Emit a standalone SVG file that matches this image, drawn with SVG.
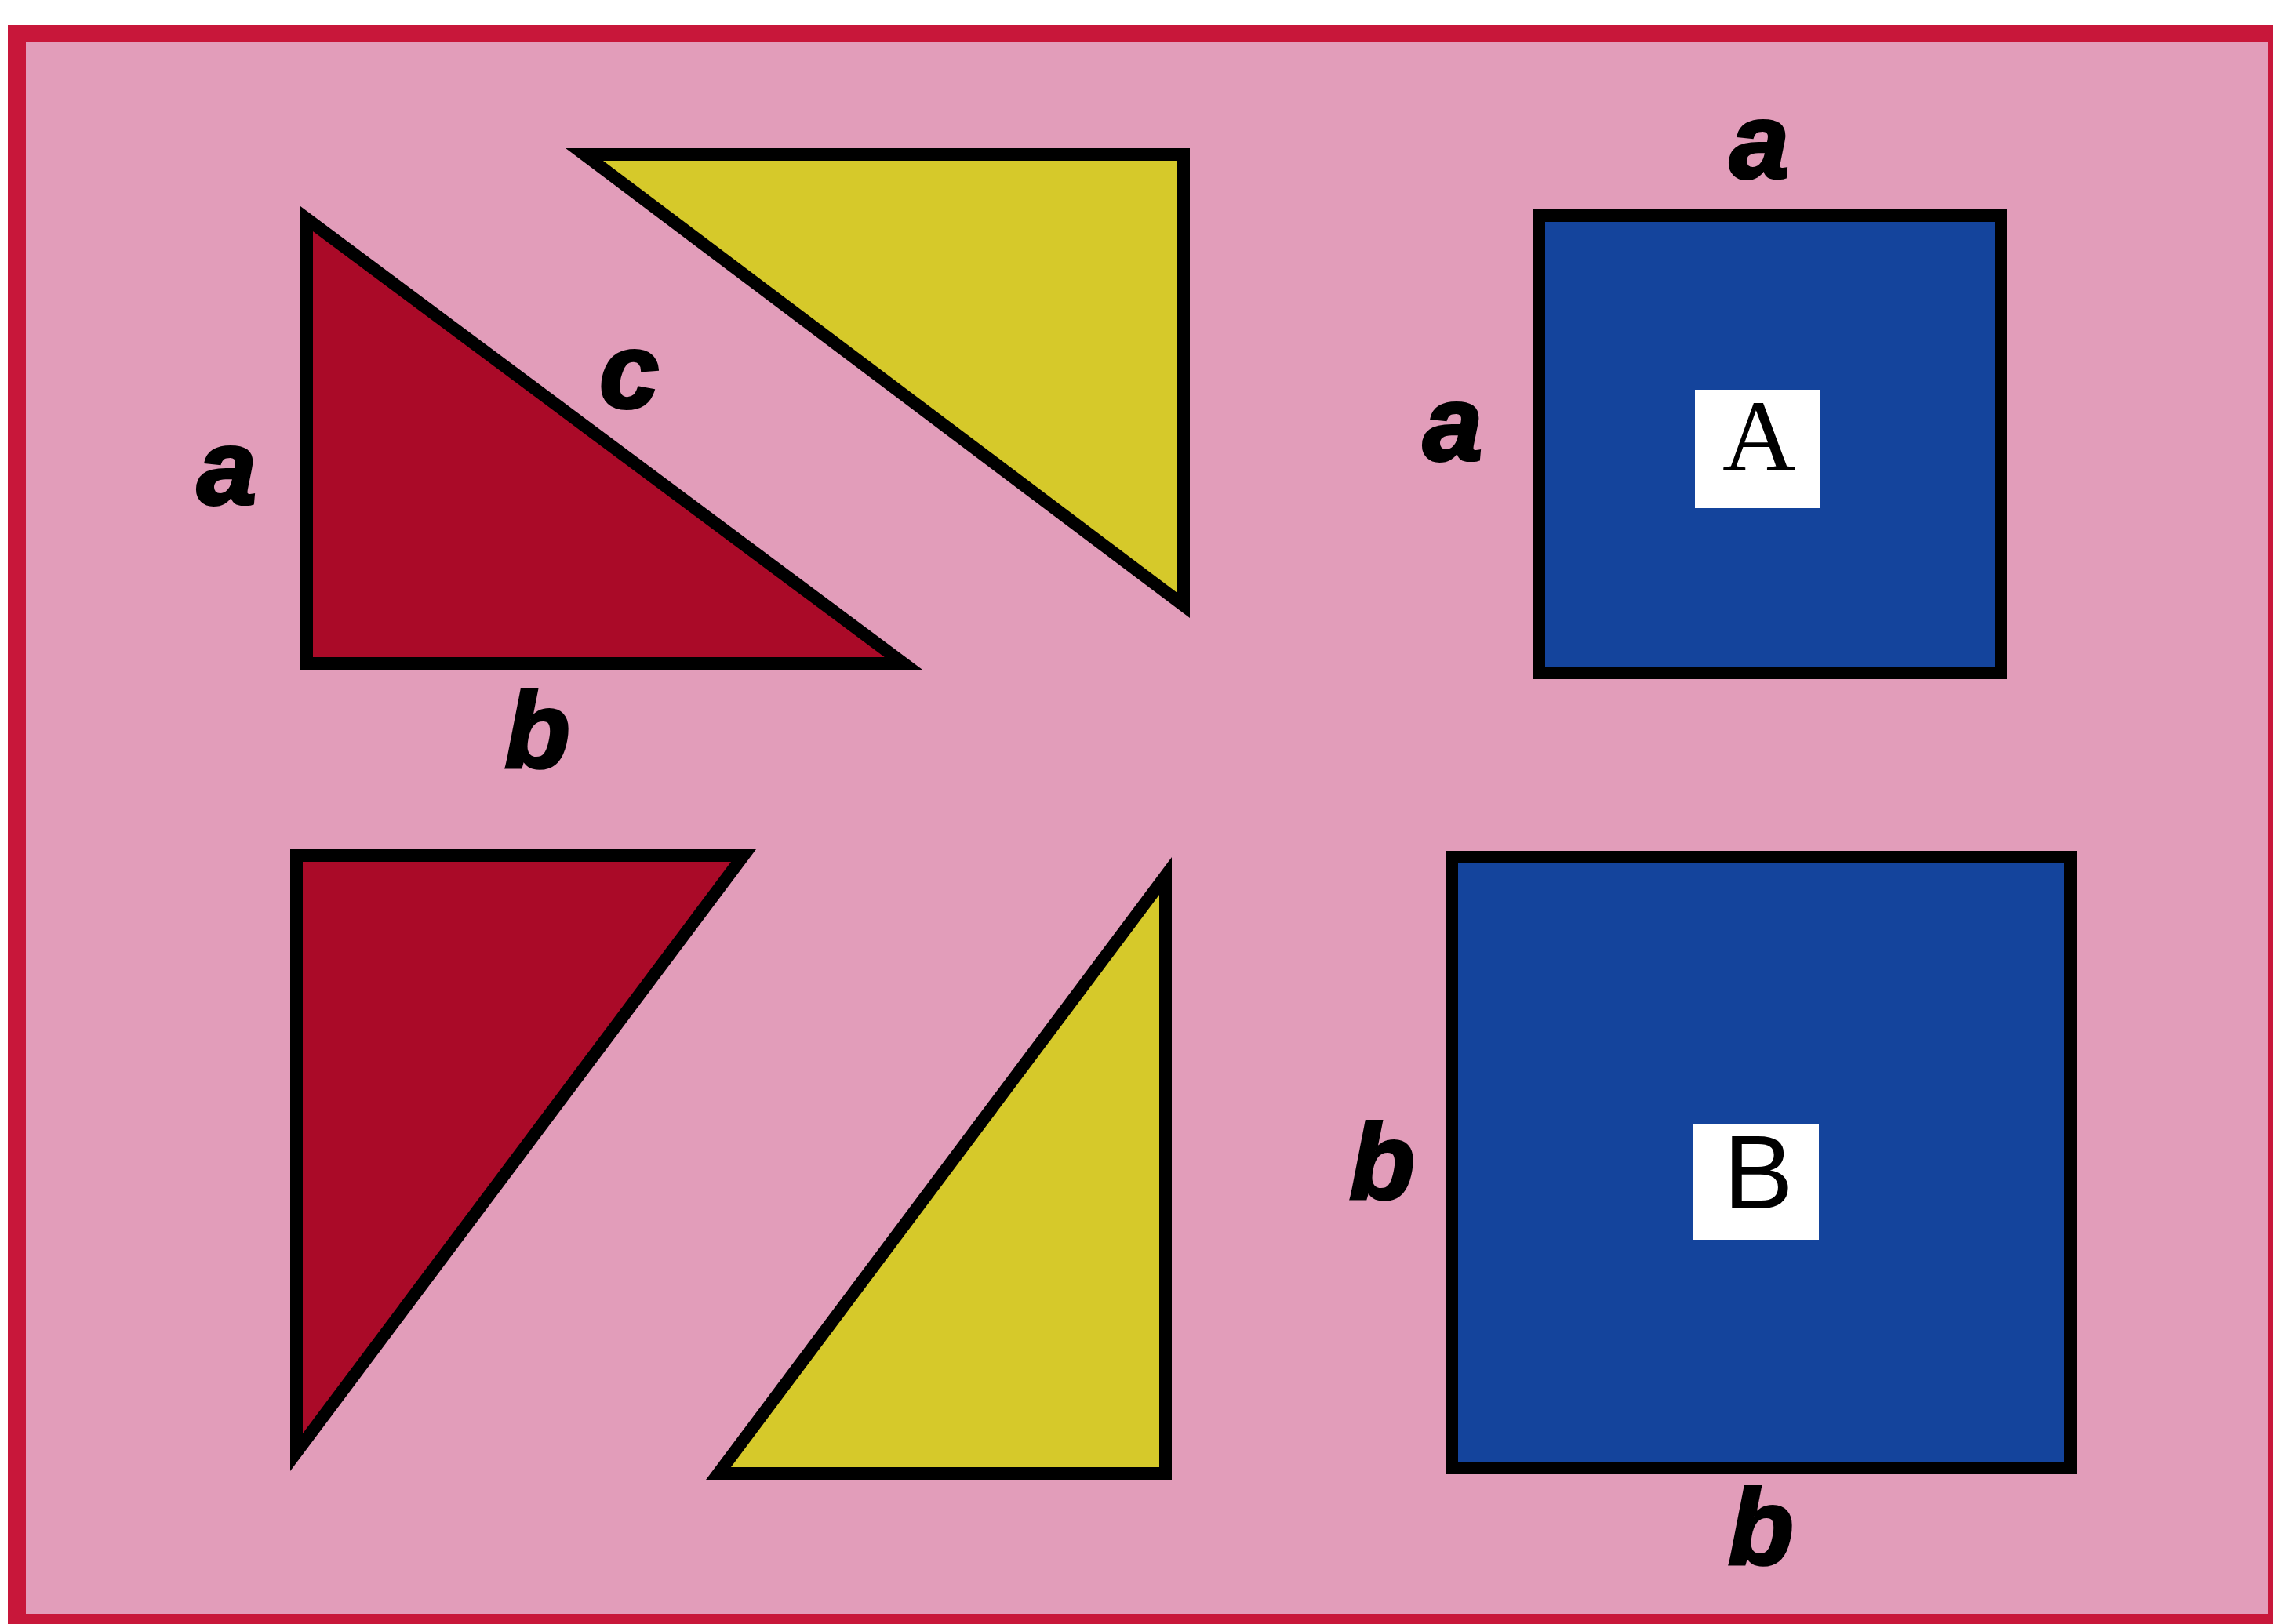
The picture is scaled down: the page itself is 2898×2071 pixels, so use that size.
<svg xmlns="http://www.w3.org/2000/svg" width="2898" height="2071" viewBox="0 0 2898 2071">
<style>
.shape{stroke:#000;stroke-width:16;stroke-linejoin:miter;stroke-miterlimit:10}
.red{fill:#AA0A28}
.yel{fill:#D6C92A}
.blue{fill:#14449C}
.lbl{font-family:"Liberation Sans",Arial,sans-serif;font-weight:bold;font-style:italic;font-size:136px;fill:#000;stroke:#000;stroke-width:4;text-anchor:middle}
.box{fill:#fff}
</style>
<rect x="0" y="0" width="2898" height="2071" fill="#fff"/>
<rect id="frame" x="10" y="32" width="2888" height="2039" fill="#C8173A"/>
<rect x="33" y="54" width="2859" height="2004" fill="#E29DBA"/>
<g id="tri-red-top">
<polygon class="shape red" points="391,279 391,846 1152,846"/>
</g>
<g id="tri-yellow-top">
<polygon class="shape yel" points="745,197 1509,197 1509,772"/>
</g>
<g id="tri-red-bottom">
<polygon class="shape red" points="378,1091 948,1091 378,1852"/>
</g>
<g id="tri-yellow-bottom">
<polygon class="shape yel" points="1486,1117 1486,1879 916,1879"/>
</g>
<g id="square-A">
<rect class="shape blue" x="1962" y="275" width="589" height="583"/>
<rect class="box" x="2161" y="497" width="159" height="151"/>
<text x="2243" y="600" font-family="'Liberation Serif','Times New Roman',serif" font-size="130" text-anchor="middle" fill="#000">A</text>
</g>
<g id="square-B">
<rect class="shape blue" x="1851" y="1093" width="789" height="779"/>
<rect class="box" x="2159" y="1433" width="160" height="148"/>
<text x="2242" y="1541" font-family="'Liberation Sans',Arial,sans-serif" font-size="134" text-anchor="middle" fill="#000">B</text>
</g>
<g id="labels">
<text class="lbl" x="289" y="643">a</text>
<text class="lbl" x="802" y="520">c</text>
<text class="lbl" x="685" y="978">b</text>
<text class="lbl" x="1852" y="587">a</text>
<text class="lbl" x="2243" y="227">a</text>
<text class="lbl" x="1762" y="1528">b</text>
<text class="lbl" x="2245" y="1994">b</text>
</g>
<g id="connectors"></g>
</svg>
